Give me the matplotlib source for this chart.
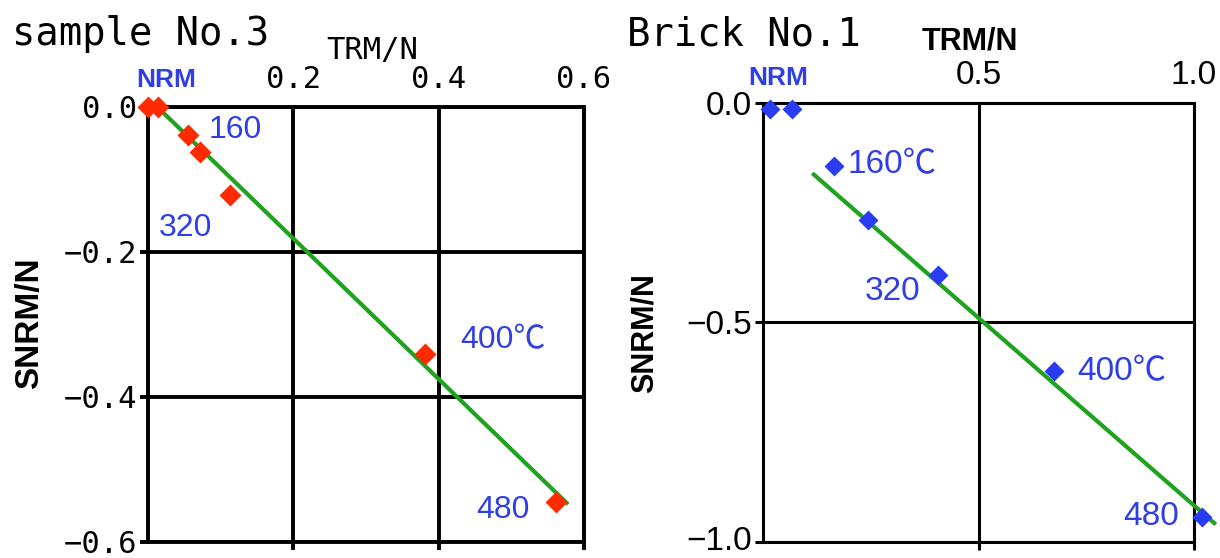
import matplotlib
matplotlib.use("Agg")
import matplotlib.pyplot as plt
import matplotlib.transforms as mtransforms
from matplotlib import font_manager

# data
s3_trm = [0.0, 0.014, 0.055, 0.072, 0.113, 0.381, 0.561]
s3_snrm = [0.0, 0.0, -0.039, -0.062, -0.121, -0.341, -0.545]
s3_fit_x = [0.016, 0.576]
s3_fit_y = [-0.003, -0.546]

b1_trm = [0.016, 0.067, 0.165, 0.243, 0.405, 0.676, 1.019]
b1_snrm = [-0.014, -0.014, -0.143, -0.267, -0.391, -0.611, -0.943]
b1_fit_x = [0.118, 1.047]
b1_fit_y = [-0.163, -0.957]

s3_xticks = [0.2, 0.4, 0.6]
s3_yticks = [0.0, -0.2, -0.4, -0.6]
b1_xticks = [0.5, 1.0]
b1_yticks = [0.0, -0.5, -1.0]

# (text, x, y, ha) in data units
s3_labels = [("NRM", 0.025, 0.037, "center"), ("160", 0.12, -0.032, "center"),
             ("320", 0.052, -0.167, "center"), ("400℃", 0.488, -0.321, "center"),
             ("480", 0.488, -0.556, "center")]
b1_labels = [("NRM", 0.035, 0.057, "center"), ("160℃", 0.197, -0.141, "left"),
             ("320", 0.30, -0.429, "center"), ("400℃", 0.729, -0.612, "left"),
             ("480", 0.90, -0.941, "center")]

names = {f.name for f in font_manager.fontManager.ttflist}
narrow = "Liberation Sans Narrow" if "Liberation Sans Narrow" in names else "Liberation Sans"
plt.rcParams['font.family'] = [narrow, 'Noto Sans CJK JP', 'DejaVu Sans']
plt.rcParams['axes.unicode_minus'] = True

BLUE = "#2f3fe6"
GREEN = "#1fa31f"
MONO = ["DejaVu Sans Mono", "DejaVu Sans"]

fig = plt.figure(figsize=(12.2, 5.58), dpi=100)


def setup(ax, xlim, ylim, xticks, yticks, xfmt, lw, labfont):
    ax.set_xlim(*xlim)
    ax.set_ylim(*ylim)
    ax.set_xticks(xticks)
    ax.set_yticks(yticks)
    ax.set_xticklabels([xfmt.format(v) for v in xticks])
    ax.set_yticklabels([("−" if v < 0 else "") + xfmt.format(abs(v)) for v in yticks])
    ax.grid(True, color="black", linewidth=lw)
    for sp in ax.spines.values():
        sp.set_linewidth(lw)
    ax.tick_params(axis="x", which="both", top=False, bottom=True, labeltop=True,
                   labelbottom=False, direction="out", length=6, width=lw, pad=3)
    ax.tick_params(axis="y", direction="out", length=6, width=lw, pad=2)
    for t in ax.get_xticklabels() + ax.get_yticklabels():
        t.set_family(labfont["family"])
        t.set_fontsize(labfont["size"])
    ax.set_axisbelow(True)


# left panel
ax1 = fig.add_axes([0.1213, 0.0287, 0.3574, 0.7796])
setup(ax1, (0, 0.6), (-0.6, 0), s3_xticks, s3_yticks, "{:.1f}", 2.8,
      {"family": MONO, "size": 22})
ax1.plot(s3_fit_x, s3_fit_y, color=GREEN, lw=3, zorder=3, clip_on=False)
ax1.plot(s3_trm, s3_snrm, "D", color="#ff2a00", ms=11, mec="none", zorder=4,
         clip_on=False)
for txt, x, y, ha in s3_labels:
    ax1.text(x, y, txt, color=BLUE, fontsize=23 if txt != "NRM" else 19,
             fontweight="bold" if txt == "NRM" else "normal",
             ha=ha, va="center", clip_on=False)
fig.text(12 / 1220, 1 - 45 / 558, "sample No.3", family=MONO, fontsize=28)
fig.text(372 / 1220, 1 - 50 / 558, "TRM/N", family=MONO, fontsize=22,
         ha="center", va="center")
fig.text(30 / 1220, 1 - 323 / 558, "SNRM/N", fontsize=24, fontweight="bold",
         rotation=90, ha="center", va="center")

# right panel
ax2 = fig.add_axes([0.6254, 0.0287, 0.3533, 0.7867])
setup(ax2, (0, 1.0), (-1.0, 0), b1_xticks, b1_yticks, "{:.1f}", 2.2,
      {"family": [narrow, "DejaVu Sans"], "size": 24})
# lift the bottom label a little so it stays inside the picture
lift = mtransforms.ScaledTranslation(0, 4 / 100, fig.dpi_scale_trans)
bottom_lab = ax2.get_yticklabels()[-1]
bottom_lab.set_transform(bottom_lab.get_transform() + lift)
ax2.plot(b1_fit_x, b1_fit_y, color=GREEN, lw=3, zorder=3, clip_on=False)
ax2.plot(b1_trm, b1_snrm, "D", color="#2a3cf0", ms=10, mec="none", zorder=4,
         clip_on=False)
for txt, x, y, ha in b1_labels:
    ax2.text(x, y, txt, color=BLUE, fontsize=24 if txt != "NRM" else 19,
             fontweight="bold" if txt == "NRM" else "normal",
             ha=ha, va="center", clip_on=False)
fig.text(627 / 1220, 1 - 45 / 558, "Brick No.1", family=MONO, fontsize=28)
fig.text(970 / 1220, 1 - 42 / 558, "TRM/N", fontsize=22, fontweight="bold",
         ha="center", va="center")
fig.text(645 / 1220, 1 - 333 / 558, "SNRM/N", fontsize=22, fontweight="bold",
         rotation=90, ha="center", va="center")

fig.savefig("out.png", dpi=100)
